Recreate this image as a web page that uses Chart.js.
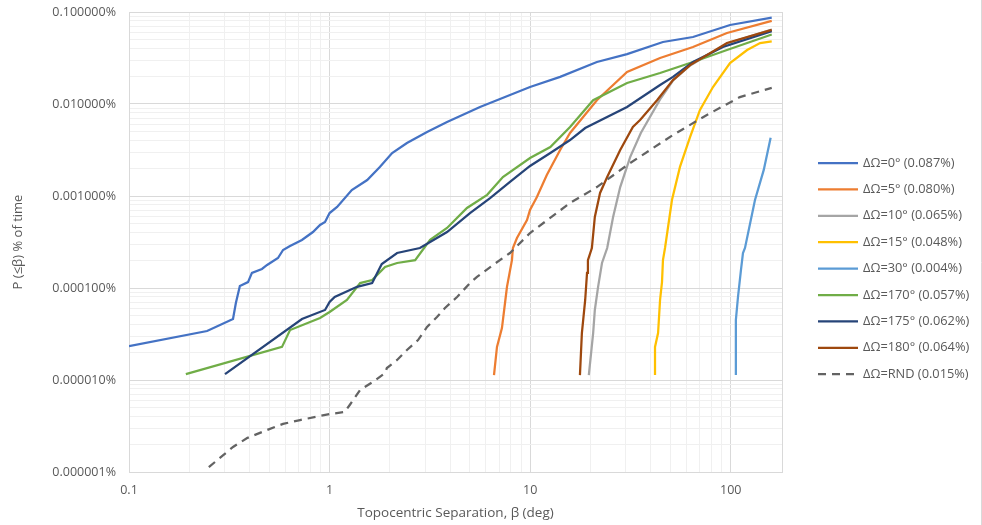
<!DOCTYPE html>
<html>
<head>
<meta charset="utf-8">
<script src="https://cdn.jsdelivr.net/npm/chart.js@4/dist/chart.umd.min.js"></script>
<style>
  html, body { margin: 0; padding: 0; background: #fff; }
  canvas { display: block; }
</style>
</head>
<body>
<canvas id="chart" width="982" height="525"></canvas>
<script>
// separation (deg) and cumulative probability (% of time)
const sep0 = [0.1, 0.245, 0.33, 0.341, 0.357, 0.392, 0.41, 0.46, 0.488, 0.553, 0.586, 0.635, 0.728, 0.826, 0.896, 0.949, 1.0, 1.09, 1.29, 1.54, 1.78, 2.05, 2.43, 3.06, 3.85, 5.62, 9.98, 14.1, 21.5, 30.4, 45.9, 64.8, 99.1, 160];
const pct0 = [2.34e-5, 3.41e-5, 4.6e-5, 6.87e-5, 1.05e-4, 1.16e-4, 1.46e-4, 1.61e-4, 1.78e-4, 2.12e-4, 2.59e-4, 2.86e-4, 3.33e-4, 4.06e-4, 4.84e-4, 5.21e-4, 6.53e-4, 7.6e-4, 1.16e-3, 1.49e-3, 2.07e-3, 2.93e-3, 3.77e-3, 4.96e-3, 6.37e-3, 9.28e-3, 0.0153, 0.0197, 0.0286, 0.0349, 0.0472, 0.0535, 0.0722, 0.087];

const sep5 = [6.6, 6.83, 7.23, 7.49, 7.66, 8.11, 8.2, 8.59, 9.64, 9.98, 10.8, 12.1, 14.1, 15.8, 21.5, 30.4, 44.4, 64.8, 95.7, 160];
const pct5 = [1.13e-5, 2.29e-5, 3.67e-5, 6.87e-5, 1.03e-4, 2.01e-4, 2.72e-4, 3.49e-4, 5.48e-4, 7.05e-4, 9.75e-4, 1.69e-3, 3.16e-3, 4.84e-3, 0.011, 0.0223, 0.0316, 0.0417, 0.0592, 0.080];

const sep10 = [19.6, 20.6, 21.0, 21.8, 22.8, 24.2, 25.9, 28.1, 31.5, 35.6, 44.4, 51.5, 62.7, 95.7, 160];
const pct10 = [1.13e-5, 3.24e-5, 5.77e-5, 1.03e-4, 1.87e-4, 2.72e-4, 5.91e-4, 1.25e-3, 2.65e-3, 4.84e-3, 0.0112, 0.018, 0.0262, 0.0455, 0.0645];

const sep15 = [41.9, 41.9, 43.4, 44.4, 45.4, 45.9, 47.0, 50.9, 55.8, 62.7, 70.2, 81.5, 99.1, 120.6, 140, 160];
const pct15 = [1.13e-5, 2.29e-5, 3.24e-5, 7.41e-5, 1.16e-4, 2.01e-4, 2.72e-4, 9.05e-4, 2.07e-3, 4.38e-3, 8.61e-3, 0.0153, 0.0279, 0.0386, 0.046, 0.048];

const sep30 = [106, 106, 108.6, 112.4, 115, 117.7, 132, 146, 158];
const pct30 = [1.13e-5, 4.49e-5, 7.98e-5, 1.57e-4, 2.4e-4, 2.72e-4, 9.05e-4, 1.92e-3, 4.3e-3];

const sep170 = [0.192, 0.579, 0.635, 0.896, 1.0, 1.22, 1.42, 1.63, 1.89, 2.17, 2.67, 3.17, 3.85, 4.84, 6.1, 7.31, 9.98, 12.6, 15.8, 20.6, 30.4, 44.4, 64.8, 95.7, 160];
const pct170 = [1.16e-5, 2.29e-5, 3.49e-5, 4.72e-5, 5.48e-5, 7.41e-5, 1.13e-4, 1.22e-4, 1.69e-4, 1.87e-4, 2.01e-4, 3.33e-4, 4.49e-4, 7.41e-4, 1.03e-3, 1.61e-3, 2.59e-3, 3.41e-3, 5.62e-3, 0.011, 0.0169, 0.0217, 0.0286, 0.0386, 0.057];

const sep175 = [0.301, 0.728, 0.949, 1.0, 1.06, 1.37, 1.63, 1.82, 2.17, 2.82, 3.17, 3.85, 5.01, 6.31, 7.93, 9.98, 12.6, 15.8, 18.8, 30.4, 44.4, 51.5, 64.8, 91.4, 160];
const pct175 = [1.16e-5, 4.6e-5, 5.77e-5, 7.05e-5, 7.98e-5, 1.03e-4, 1.13e-4, 1.82e-4, 2.4e-4, 2.72e-4, 3.16e-4, 4.06e-4, 6.53e-4, 9.5e-4, 1.42e-3, 2.12e-3, 2.93e-3, 4.06e-3, 5.48e-3, 9.28e-3, 0.0161, 0.0197, 0.0286, 0.0417, 0.062];

const sep180 = [17.7, 18.1, 18.8, 19.2, 19.4, 20.3, 21.0, 22.3, 24.2, 28.1, 32.5, 35.3, 42.9, 51.5, 62.7, 95.7, 160];
const pct180 = [1.13e-5, 3.24e-5, 7.41e-5, 1.46e-4, 2.01e-4, 2.72e-4, 5.91e-4, 1.08e-3, 1.61e-3, 3.16e-3, 5.62e-3, 6.7e-3, 0.011, 0.0182, 0.0265, 0.046, 0.064];

const sepRnd = [0.25, 0.33, 0.388, 0.488, 0.586, 0.712, 1.0, 1.19, 1.26, 1.42, 1.64, 1.89, 1.93, 2.17, 2.43, 2.76, 3.06, 3.43, 3.76, 4.32, 5.01, 5.43, 6.53, 7.93, 9.98, 15.8, 21.5, 31.5, 51.5, 76, 111, 160];
const pctRnd = [1.13e-6, 1.87e-6, 2.34e-6, 2.86e-6, 3.33e-6, 3.67e-6, 4.27e-6, 4.49e-6, 5.35e-6, 7.79e-6, 9.5e-6, 1.19e-5, 1.35e-5, 1.65e-5, 2.12e-5, 2.72e-5, 3.77e-5, 4.84e-5, 6.06e-5, 7.98e-5, 1.13e-4, 1.32e-4, 1.78e-4, 2.4e-4, 3.96e-4, 8.39e-4, 1.25e-3, 2.28e-3, 4.6e-3, 7.6e-3, 0.0119, 0.015];

const seriesLabels = ['ΔΩ=0° (0.087%)', 'ΔΩ=5° (0.080%)', 'ΔΩ=10° (0.065%)', 'ΔΩ=15° (0.048%)', 'ΔΩ=30° (0.004%)', 'ΔΩ=170° (0.057%)', 'ΔΩ=175° (0.062%)', 'ΔΩ=180° (0.064%)', 'ΔΩ=RND (0.015%)'];
const seriesX = [sep0, sep5, sep10, sep15, sep30, sep170, sep175, sep180, sepRnd];
const seriesY = [pct0, pct5, pct10, pct15, pct30, pct170, pct175, pct180, pctRnd];
const colors = ['#4472C4', '#ED7D31', '#A5A5A5', '#FFC000', '#5B9BD5', '#70AD47', '#264478', '#9E480E', '#636363'];

// axis ticks (decades); minor grid at 2..9 of each decade
const xMajor = [0.1, 1, 10, 100];
const yMajor = [0.000001, 0.00001, 0.0001, 0.001, 0.01, 0.1];
const xMax = 180;

const FONT = '"Open Sans", "Liberation Sans", sans-serif';
const TEXT = '#595959';

function withMinors(majors, max) {
  const out = [];
  majors.forEach(m => {
    for (let k = 1; k <= 9; k++) {
      const v = +(m * k).toPrecision(6);
      if (v <= max * 1.0000001) out.push(v);
    }
  });
  return out;
}
function isMajor(v) {
  const l = Math.log10(v);
  return Math.abs(l - Math.round(l)) < 1e-7;
}

const xTicks = withMinors(xMajor, xMax);
const yTicks = withMinors(yMajor, yMajor[yMajor.length - 1]);

const datasets = seriesLabels.map((label, i) => ({
  label,
  data: seriesX[i].map((x, j) => ({ x, y: seriesY[i][j] })),
  borderColor: colors[i],
  borderWidth: 2.25,
  borderDash: i === 8 ? [8, 6] : [],
  pointRadius: 0,
  fill: false,
  tension: 0,
  order: -i
}));

const sideLegend = {
  id: 'sideLegend',
  afterDraw(chart) {
    const c = chart.ctx;
    c.save();
    c.font = '12.8px ' + FONT;
    c.textBaseline = 'middle';
    chart.data.datasets.forEach((ds, i) => {
      const y = 163 + i * 26.4;
      c.strokeStyle = ds.borderColor;
      c.lineWidth = 2.25;
      c.setLineDash(ds.borderDash);
      c.beginPath(); c.moveTo(818, y); c.lineTo(858, y); c.stroke();
      c.setLineDash([]);
      c.fillStyle = TEXT;
      c.fillText(ds.label, 863, y);
    });
    c.restore();
  }
};

const frame = {
  id: 'frame',
  beforeDatasetsDraw(chart) {
    const { left, top, right, bottom } = chart.chartArea;
    const c = chart.ctx;
    c.save();
    c.strokeStyle = '#d9d9d9';
    c.lineWidth = 1;
    c.strokeRect(left + 0.5, top + 0.5, right - left, bottom - top);
    c.beginPath(); c.moveTo(981.5, 0); c.lineTo(981.5, 525); c.stroke();
    c.restore();
  }
};

new Chart(document.getElementById('chart'), {
  type: 'line',
  data: { datasets },
  options: {
    responsive: false,
    animation: false,
    layout: { padding: { top: 12, right: 200, left: 0, bottom: 0 } },
    plugins: { legend: { display: false }, tooltip: { enabled: false } },
    scales: {
      x: {
        type: 'logarithmic',
        min: 0.1,
        max: xMax,
        afterBuildTicks: s => { s.ticks = xTicks.map(v => ({ value: v })); },
        afterFit: s => { s.height = 53; s.paddingLeft = 0; s.paddingRight = 0; },
        grid: { color: ctx => isMajor(ctx.tick.value) ? '#d9d9d9' : '#f0f0f0', drawTicks: false },
        border: { color: '#d9d9d9' },
        ticks: {
          autoSkip: false, maxRotation: 0, padding: 11, color: TEXT,
          font: { family: FONT, size: 12.5 },
          callback: v => isMajor(v) ? String(v) : ''
        },
        title: { display: true, text: 'Topocentric Separation, β (deg)', color: TEXT, font: { family: FONT, size: 13.5 }, padding: { top: 0, bottom: 4 } }
      },
      y: {
        type: 'logarithmic',
        min: yMajor[0],
        max: yMajor[yMajor.length - 1],
        afterBuildTicks: s => { s.ticks = yTicks.map(v => ({ value: v })); },
        afterFit: s => { s.width = 129; s.paddingTop = 0; s.paddingBottom = 0; },
        grid: { color: ctx => isMajor(ctx.tick.value) ? '#d9d9d9' : '#f0f0f0', drawTicks: false },
        border: { color: '#d9d9d9' },
        ticks: {
          autoSkip: false, padding: 13, color: TEXT,
          font: { family: FONT, size: 12.5 },
          callback: v => isMajor(v) ? v.toFixed(6) + '%' : ''
        },
        title: { display: true, text: 'P (≤β) % of time', color: TEXT, font: { family: FONT, size: 13 }, padding: { top: 10, bottom: 0 } }
      }
    }
  },
  plugins: [sideLegend, frame]
});
</script>
</body>
</html>
